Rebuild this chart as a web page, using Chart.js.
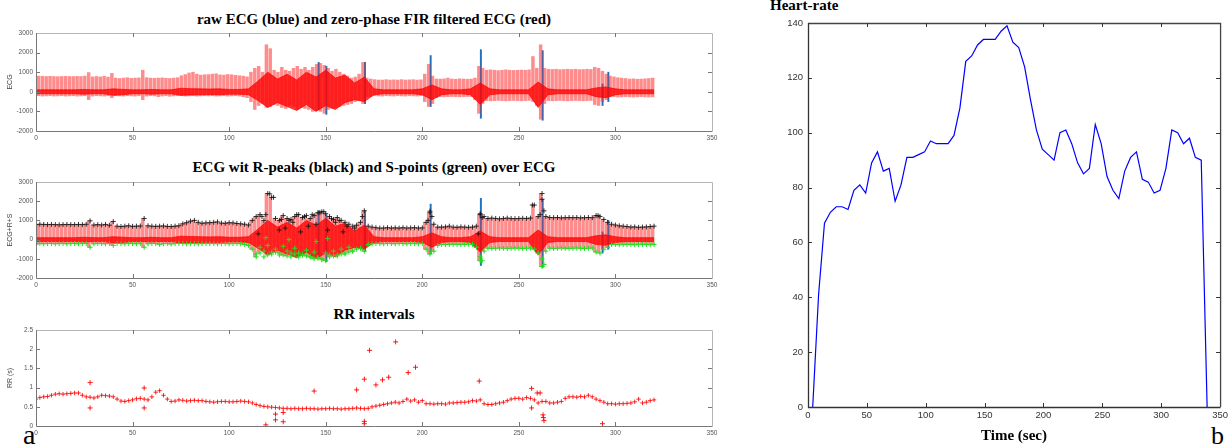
<!DOCTYPE html>
<html>
<head>
<meta charset="utf-8">
<script src="https://cdn.jsdelivr.net/npm/chart.js@4.4.1/dist/chart.umd.min.js"></script>
<style>
  body { margin: 0; width: 1231px; height: 446px; background: #fff; position: relative; overflow: hidden; }
  canvas { position: absolute; }
  .ttl { position: absolute; font: bold 15px/15px "Liberation Serif", "Times New Roman", serif; color: #000; white-space: nowrap; }
  .mid { transform: translateX(-50%); }
  .tag { position: absolute; font-family: "Liberation Serif", "Times New Roman", serif; color: #000; }
</style>
</head>
<body>
<div class="ttl mid" style="left:374px; top:12px">raw ECG (blue) and zero-phase FIR filtered ECG (red)</div>
<div class="ttl mid" style="left:374px; top:160px">ECG wit R-peaks (black) and S-points (green) over ECG</div>
<div class="ttl mid" style="left:374px; top:307px">RR intervals</div>
<div class="ttl" style="left:770px; top:-2px">Heart-rate</div>
<div class="tag" style="left:23px; top:421px; font-size:28px; line-height:28px">a</div>
<div class="tag" style="left:1211px; top:423px; font-size:26px; line-height:26px">b</div>

<canvas id="ecgRaw" width="730" height="150" style="left:0; top:0"></canvas>
<canvas id="ecgPeaks" width="730" height="150" style="left:0; top:150px"></canvas>
<canvas id="rrChart" width="730" height="146" style="left:0; top:300px"></canvas>
<canvas id="hrChart" width="481" height="446" style="left:750px; top:0"></canvas>

<script>
'use strict';

// tick labels
var timeTicks = [0, 50, 100, 150, 200, 250, 300, 350];
var ecgTicks = [-2000, -1000, 0, 1000, 2000, 3000];
var rrTicks = [0, 0.5, 1, 1.5, 2, 2.5];
var hrTicks = [0, 20, 40, 60, 80, 100, 120, 140];

// ECG beat envelope (filtered ECG), one sample every 2 s from 0 to 320 s
var ecgStep = 2;
var ecgUpper = [780,800,790,780,790,780,770,780,790,780,780,790,780,800,
  980,760, 780,760,790,750, 940, 700,680,700,720,690,700,710, 1100,
  720,700,690,700,710,690,680,700,720, 820,880,960,1000,900,850,870,
  880,900,920,860,850,880,870,840,820,800,760,
  1000,1200,1300,1000,2400,2200,1100,1000,1250,1100,1050,1200,1300,1150,1250,1100,1250,1400,1450,1350,1200,1050,1150,1000,900,800,700,750,900,1500,
  700,650,620,600,600,620,600,610,600,620,600,610,620,600,610,
  900,1400,800,650, 650,660,700,650,640,660,650,640,650,700, 1300,1200,
  1100,1120,1100,1080,1100,1120,1100,1090,1100,1110,1100,1120,
  1800,1200,2400,1200,
  1150,1140,1150,1130,1140,1150,1140,1150,1130,1140,1150,1140,
  1250,1200,1050,900,
  800,760,720,700,680,650,660,640,650,660,680,700];
var ecgLower = [-250,-200,-220,-210,-200,-220,-210,-200,-220,-210,-200,-220,-210,-200,
  -400,-220, -200,-210,-220,-200, -300, -200,-210,-220,-200,-210,-220,-200, -400,
  -220,-200,-210,-250,-220,-200,-230,-210,-200, -200,-220,-210,-200,-220,-210,-200,
  -210,-200,-220,-210,-200,-220,-210,-200,-220,-250,-300,
  -500,-900,-700,-600,-800,-750,-650,-700,-800,-850,-700,-750,-900,-800,-850,-900,-1000,-950,-1000,-1100,-900,-850,-800,-750,-700,-650,-600,-500,-450,-600,
  -250,-220,-200,-210,-220,-200,-210,-220,-200,-210,-220,-200,-210,-220,-200,
  -500,-750,-600,-300, -250,-260,-250,-240,-250,-260,-250,-240,-250,-400, -1100,-600,
  -450,-460,-450,-440,-450,-460,-450,-440,-450,-460,-450,-440,
  -500,-700,-1400,-600,
  -450,-460,-450,-440,-450,-460,-450,-440,-450,-460,-450,-440,
  -650,-700,-500,-400,
  -260,-250,-270,-260,-250,-260,-270,-260,-250,-260,-270,-260];

// dense filtered-ECG core around the baseline, every 5 s
var coreStep = 5;
var coreHigh = [100,100,100,100,100,120,100,100,150,120,100,100,120,100,100,180,160,150,140,150,120,120,150,
  550,1000,650,900,600,1000,750,1100,700,850,450,750,
  150,100,100,100,100,150,350,150,100,100,150,450,150,100,100,100,100,500,150,100,100,100,100,200,250,150,100,100,100,100];
var coreLow = [-100,-100,-100,-100,-100,-120,-100,-100,-180,-150,-100,-100,-120,-100,-100,-180,-160,-150,-140,-150,-120,-120,-150,
  -450,-800,-550,-750,-950,-650,-1000,-700,-900,-550,-400,-500,
  -150,-100,-100,-100,-100,-150,-400,-150,-100,-100,-150,-650,-150,-100,-100,-100,-100,-800,-150,-100,-100,-100,-100,-250,-300,-150,-100,-100,-100,-100];

// raw ECG excursions showing past the filtered one
var blueTime = [146, 150, 170, 204, 230, 262, 293, 296];
var blueHigh = [1500, 1300, 1500, 1850, 2150, 2100, 400, 1000];
var blueLow = [-900, -1150, -600, -750, -1350, -1450, -700, -500];

// extra R-peaks / S-points in the noisy stretches
var rExtraTime = [115,117,119,121,123,126,127,129,131,133,135,137,139,141,143,145,147,149,151,153,155,157,159,161,165,169,203,204,205,229,230,231,257,261,262,263,291];
var rExtraValue = [300,1200,1300,2380,2200,500,1050,600,1000,900,1300,400,1200,700,1300,800,1400,1450,500,1100,900,1000,400,700,600,1200,1000,1480,1200,300,1350,1150,1800,1300,2100,1500,1250];
var sExtraTime = [114,116,118,120,122,124,126,128,130,132,134,136,138,140,142,144,146,148,150,152,154,156,158,160,162,164,119,131,145,151,204,230,231,262,263];
var sExtraValue = [-750,-400,-900,-300,-650,-500,-800,-350,-600,-900,-450,-700,-800,-550,-900,-650,-950,-1050,-700,-800,-600,-850,-500,-750,-400,-600,100,0,-100,50,-600,-900,-1100,-1000,-1300];

// RR intervals (s), one every 2 s, plus outliers
var rrStep = 2;
var rrValue = [0.70,0.74,0.76,0.77,0.80,0.83,0.84,0.83,0.84,0.85,0.86,0.86,
  0.80,0.76,0.75,0.73,0.76,0.80,0.79,0.78,0.76,0.70,0.65,0.64,0.66,0.68,0.71,0.72,0.70,0.68,
  0.76,0.88,0.92,0.80,0.70,
  0.64,0.65,0.68,0.67,0.65,0.66,0.67,0.66,0.66,0.64,0.63,0.62,0.63,0.64,0.64,0.63,0.63,0.64,0.65,0.64,0.63,
  0.60,0.56,0.53,0.51,0.50,0.49,0.48,0.47,0.46,0.46,0.45,0.46,0.45,0.45,0.46,0.45,0.45,0.44,0.45,0.45,0.46,0.45,0.45,0.44,0.45,0.45,0.46,0.47,0.46,0.45,0.46,
  0.50,0.52,0.54,0.56,0.58,0.60,0.62,0.60,0.64,0.70,0.65,0.68,0.62,0.66,
  0.58,0.58,0.57,0.58,0.58,0.57,0.60,0.60,0.61,0.62,0.62,0.63,0.66,0.65,0.68,
  0.58,0.56,0.56,0.58,0.60,0.62,0.66,0.70,0.72,0.72,0.70,0.74,0.72,
  0.68,0.60,0.64,0.64,
  0.60,0.60,0.62,0.64,0.72,0.76,0.76,0.75,0.77,0.76,0.80,0.76,0.70,
  0.66,0.62,0.58,0.58,0.57,0.58,0.58,0.59,0.60,0.63,0.70,0.60,0.62,0.66,0.68];
var rrOutTime = [28,28,56,56,119,124,124,128,128,144,166,170,170,170,172.7,176,179.4,182.6,186.2,192.7,196.5,229.5,256.6,256.6,259.5,261,262.5,262.7,263,293.3];
var rrOutValue = [1.13,0.47,0.99,0.47,0.03,0.31,0.16,0.35,0.11,0.91,0.94,1.22,0.12,0.06,1.97,1.07,1.20,1.27,2.19,1.39,1.53,1.17,0.98,0.47,0.86,0.86,0.29,0.22,0.14,0.06];

// heart rate (bpm)
var hrTime = [4,9,14,19,24,29,34,39,44,49,54,59,64,69,74,79,84,89,94,99,104,109,114,119,124,129,134,139,144,149,154,159,164,169,174,179,184,189,194,199,204,209,214,219,224,229,234,239,244,249,254,259,264,269,274,279,284,289,294,299,304,309,314,319,324,329,334,339];
var hrValue = [0,41,67,71,73,73,72,79,81,78,89,93,86,87,75,81,91,91,92,93,97,96,96,96,99,109,126,128,132,134,134,134,137,139,133,131,124,112,101,94,92,90,100,101,96,89,85,87,103,96,84,79,76,86,91,93,83,82,78,79,87,101,100,96,98,91,90,0];

var serif = '"Liberation Serif", "Times New Roman", serif';
Chart.defaults.font.family = '"Liberation Sans", Arial, sans-serif';
Chart.defaults.animation = false;

function onGrid(step, vals) {
    return vals.map(function (v, i) { return { x: i * step, y: v }; });
}
function pairs(times, vals) {
    return times.map(function (t, i) { return { x: t, y: vals[i] }; });
}
function bands(times, lo, hi) {
    return times.map(function (t, i) { return { x: t, y: [lo[i], hi[i]] }; });
}
function fixedTicks(list) {
    return function (scale) { scale.ticks = list.map(function (v) { return { value: v }; }); };
}

// MATLAB-like box with inward tick marks, positions taken from the scales
var boxPlugin = {
    id: 'box',
    afterDatasetsDraw: function (chart, args, o) {
        var ctx = chart.ctx, a = chart.chartArea;
        var xs = chart.scales.x, ys = chart.scales.y;
        ctx.save();
        ctx.lineWidth = o.width;
        ctx.strokeStyle = o.light;
        ctx.beginPath();
        ctx.moveTo(a.left, a.top + 0.5);
        ctx.lineTo(a.right + 0.5, a.top + 0.5);
        ctx.lineTo(a.right + 0.5, a.bottom);
        ctx.stroke();
        ctx.strokeStyle = o.dark;
        ctx.beginPath();
        ctx.moveTo(a.left + 0.5, a.top);
        ctx.lineTo(a.left + 0.5, a.bottom + 0.5);
        ctx.lineTo(a.right + 0.5, a.bottom + 0.5);
        ctx.stroke();
        ctx.lineWidth = 1;
        ctx.strokeStyle = o.tick;
        ctx.beginPath();
        xs.ticks.forEach(function (t) {
            var p = Math.round(xs.getPixelForValue(t.value)) + 0.5;
            if (p < a.left + 2 || p > a.right - 2) return;
            ctx.moveTo(p, a.bottom); ctx.lineTo(p, a.bottom - o.len);
            ctx.moveTo(p, a.top); ctx.lineTo(p, a.top + o.len);
        });
        ys.ticks.forEach(function (t) {
            var p = Math.round(ys.getPixelForValue(t.value)) + 0.5;
            if (p < a.top + 2 || p > a.bottom - 2) return;
            ctx.moveTo(a.left, p); ctx.lineTo(a.left + o.len, p);
            ctx.moveTo(a.right, p); ctx.lineTo(a.right - o.len, p);
        });
        ctx.stroke();
        ctx.restore();
    }
};

function xAxis(size, h, color, title) {
    var s = {
        type: 'linear', min: 0, max: 350, offset: false,
        grid: { display: false, drawTicks: false }, border: { display: false },
        afterBuildTicks: fixedTicks(timeTicks),
        afterFit: function (sc) { sc.height = h; },
        ticks: { font: { size: size }, color: color, padding: 3, maxRotation: 0, autoSkip: false,
                 callback: function (v) { return String(v); } }
    };
    if (title) {
        s.title = { display: true, text: title, color: '#000', padding: { top: 0, bottom: 1 },
                    font: { family: serif, size: 15, weight: 'bold' } };
    }
    return s;
}
function yAxis(list, w, size, color, pad, title) {
    var s = {
        min: list[0], max: list[list.length - 1],
        grid: { display: false, drawTicks: false }, border: { display: false },
        afterBuildTicks: fixedTicks(list),
        afterFit: function (sc) { sc.width = w; },
        ticks: { font: { size: size }, color: color, padding: pad, autoSkip: false,
                 callback: function (v) { return String(v); } }
    };
    if (title) {
        s.title = { display: true, text: title, color: '#444', padding: { top: 6, bottom: 0 },
                    font: { size: 7 } };
    }
    return s;
}

var leftBox = { dark: '#777', light: '#b5b5b5', tick: '#777', len: 4, width: 1 };

function ecgDatasets(withPeaks) {
    var gridTimes = onGrid(ecgStep, ecgUpper).map(function (p) { return p.x; });
    var ds = [
        { type: 'bar', data: bands(blueTime, blueLow, blueHigh), backgroundColor: '#1f72c0',
          barThickness: 1.3, order: 6 },
        { type: 'bar', data: bands(gridTimes, ecgLower, ecgUpper),
          backgroundColor: 'rgba(255,45,45,0.55)', barThickness: 2.8, order: 5 },
        { type: 'line', data: onGrid(coreStep, coreHigh), borderColor: 'rgba(255,0,0,0.9)', borderWidth: 0.8,
          backgroundColor: 'rgba(255,0,0,0.78)', pointRadius: 0, fill: '+1', order: 4 },
        { type: 'line', data: onGrid(coreStep, coreLow), borderColor: 'rgba(255,0,0,0.9)', borderWidth: 0.8,
          pointRadius: 0, fill: false, order: 4 }
    ];
    if (withPeaks) {
        var rPts = onGrid(ecgStep, ecgUpper).concat(pairs(rExtraTime, rExtraValue));
        var sPts = onGrid(ecgStep, ecgLower).concat(pairs(sExtraTime, sExtraValue));
        ds.push({ type: 'scatter', data: sPts, pointStyle: 'cross', pointRadius: 2.5, pointBorderWidth: 1,
                  borderColor: '#1fe01f', backgroundColor: '#1fe01f', order: 2 });
        ds.push({ type: 'scatter', data: rPts, pointStyle: 'cross', pointRadius: 2.5, pointBorderWidth: 1,
                  borderColor: 'rgba(20,20,20,0.85)', backgroundColor: '#222', order: 1 });
    }
    return ds;
}

function ecgChart(id, top, xh, withPeaks, ytitle) {
    return new Chart(document.getElementById(id), {
        type: 'bar',
        data: { datasets: ecgDatasets(withPeaks) },
        options: {
            responsive: false, devicePixelRatio: 1,
            layout: { padding: { left: 0, right: 18, top: top, bottom: 0 } },
            plugins: { legend: { display: false }, tooltip: { enabled: false }, box: leftBox },
            scales: { x: xAxis(6.5, xh, '#555'), y: yAxis(ecgTicks, 36, 6.5, '#555', 3, ytitle) }
        },
        plugins: [boxPlugin]
    });
}

ecgChart('ecgRaw', 33, 19, false, 'ECG');
ecgChart('ecgPeaks', 32, 22, true, 'ECG+R+S');

new Chart(document.getElementById('rrChart'), {
    type: 'scatter',
    data: {
        datasets: [
            { data: onGrid(rrStep, rrValue), pointStyle: 'cross', pointRadius: 2.2, pointBorderWidth: 1,
              borderColor: 'rgba(255,0,0,0.85)', backgroundColor: 'red' },
            { data: pairs(rrOutTime, rrOutValue), pointStyle: 'cross', pointRadius: 2.5, pointBorderWidth: 1,
              borderColor: 'rgba(255,0,0,0.9)', backgroundColor: 'red' }
        ]
    },
    options: {
        responsive: false, devicePixelRatio: 1,
        layout: { padding: { left: 0, right: 18, top: 30, bottom: 0 } },
        plugins: { legend: { display: false }, tooltip: { enabled: false }, box: leftBox },
        scales: { x: xAxis(6.5, 20, '#555'), y: yAxis(rrTicks, 36, 6.5, '#555', 3, 'RR (s)') }
    },
    plugins: [boxPlugin]
});

new Chart(document.getElementById('hrChart'), {
    type: 'line',
    data: {
        datasets: [
            { data: pairs(hrTime, hrValue), borderColor: '#0000ff', borderWidth: 1.2, pointRadius: 0,
              fill: false, tension: 0 }
        ]
    },
    options: {
        responsive: false, devicePixelRatio: 1,
        layout: { padding: { left: 0, right: 9, top: 23, bottom: 0 } },
        plugins: { legend: { display: false }, tooltip: { enabled: false },
                   box: { dark: '#333', light: '#444', tick: '#333', len: 4, width: 1.3 } },
        scales: { x: xAxis(9.5, 39, '#333', 'Time (sec)'), y: yAxis(hrTicks, 58, 9.5, '#333', 5) }
    },
    plugins: [boxPlugin]
});
</script>
</body>
</html>
